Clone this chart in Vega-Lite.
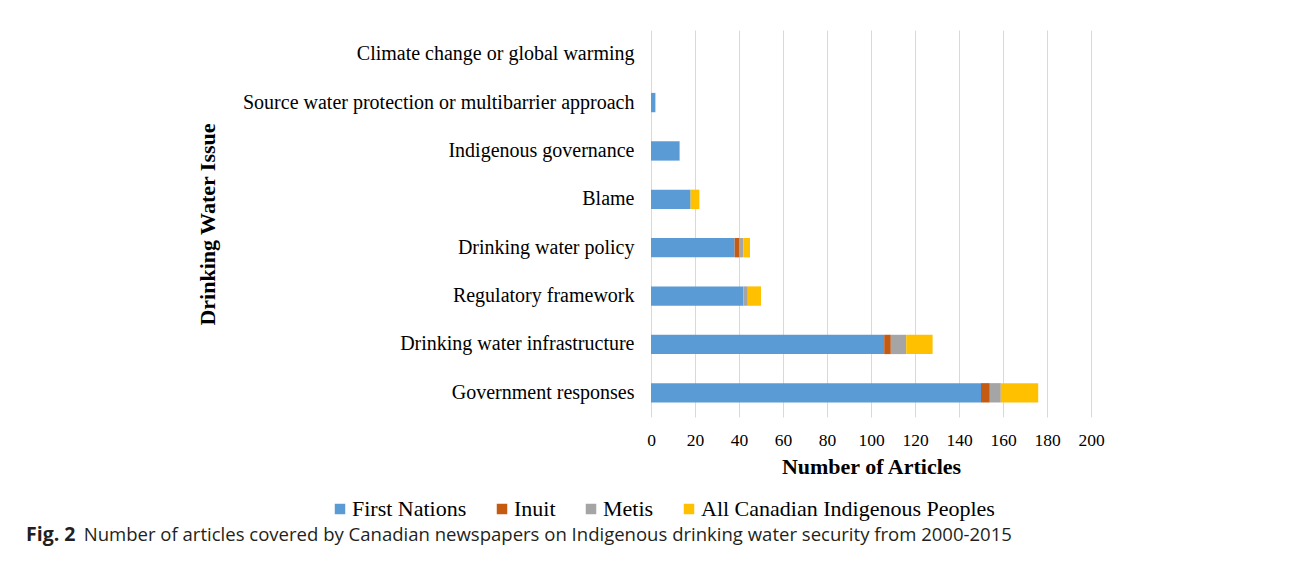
{
  "$schema": "https://vega.github.io/schema/vega-lite/v6.json",
  "width": 440,
  "height": 387,
  "autosize": {"type": "none"},
  "padding": {"left": 651, "top": 30, "right": 201, "bottom": 146},
  "background": "white",
  "title": {
    "text": "Fig. 2",
    "subtitle": "\u200b\u00a0\u00a0\u00a0\u00a0\u00a0\u00a0\u00a0\u00a0\u00a0\u00a0\u00a0\u00a0Number of articles covered by Canadian newspapers on Indigenous drinking water security from 2000-2015",
    "orient": "top",
    "anchor": "start",
    "frame": "group",
    "dx": -625,
    "dy": 516,
    "offset": 0,
    "font": "Open Sans",
    "fontSize": 19.5,
    "fontWeight": "bold",
    "color": "#231f20",
    "subtitleFont": "Open Sans",
    "subtitleFontSize": 18.55,
    "subtitleColor": "#231f20",
    "subtitlePadding": -19
  },
  "data": {
    "values": [
      {"issue": "Government responses", "group": "First Nations", "gi": 1, "n": 150},
      {"issue": "Government responses", "group": "Inuit", "gi": 2, "n": 4},
      {"issue": "Government responses", "group": "Metis", "gi": 3, "n": 5},
      {"issue": "Government responses", "group": "All Canadian Indigenous Peoples", "gi": 4, "n": 17},
      {"issue": "Drinking water infrastructure", "group": "First Nations", "gi": 1, "n": 106},
      {"issue": "Drinking water infrastructure", "group": "Inuit", "gi": 2, "n": 3},
      {"issue": "Drinking water infrastructure", "group": "Metis", "gi": 3, "n": 7},
      {"issue": "Drinking water infrastructure", "group": "All Canadian Indigenous Peoples", "gi": 4, "n": 12},
      {"issue": "Regulatory framework", "group": "First Nations", "gi": 1, "n": 42},
      {"issue": "Regulatory framework", "group": "Inuit", "gi": 2, "n": 0},
      {"issue": "Regulatory framework", "group": "Metis", "gi": 3, "n": 2},
      {"issue": "Regulatory framework", "group": "All Canadian Indigenous Peoples", "gi": 4, "n": 6},
      {"issue": "Drinking water policy", "group": "First Nations", "gi": 1, "n": 38},
      {"issue": "Drinking water policy", "group": "Inuit", "gi": 2, "n": 2},
      {"issue": "Drinking water policy", "group": "Metis", "gi": 3, "n": 2},
      {"issue": "Drinking water policy", "group": "All Canadian Indigenous Peoples", "gi": 4, "n": 3},
      {"issue": "Blame", "group": "First Nations", "gi": 1, "n": 18},
      {"issue": "Blame", "group": "Inuit", "gi": 2, "n": 0},
      {"issue": "Blame", "group": "Metis", "gi": 3, "n": 0},
      {"issue": "Blame", "group": "All Canadian Indigenous Peoples", "gi": 4, "n": 4},
      {"issue": "Indigenous governance", "group": "First Nations", "gi": 1, "n": 13},
      {"issue": "Indigenous governance", "group": "Inuit", "gi": 2, "n": 0},
      {"issue": "Indigenous governance", "group": "Metis", "gi": 3, "n": 0},
      {"issue": "Indigenous governance", "group": "All Canadian Indigenous Peoples", "gi": 4, "n": 0},
      {"issue": "Source water protection or multibarrier approach", "group": "First Nations", "gi": 1, "n": 2},
      {"issue": "Source water protection or multibarrier approach", "group": "Inuit", "gi": 2, "n": 0},
      {"issue": "Source water protection or multibarrier approach", "group": "Metis", "gi": 3, "n": 0},
      {"issue": "Source water protection or multibarrier approach", "group": "All Canadian Indigenous Peoples", "gi": 4, "n": 0},
      {"issue": "Climate change or global warming", "group": "First Nations", "gi": 1, "n": 0},
      {"issue": "Climate change or global warming", "group": "Inuit", "gi": 2, "n": 0},
      {"issue": "Climate change or global warming", "group": "Metis", "gi": 3, "n": 0},
      {"issue": "Climate change or global warming", "group": "All Canadian Indigenous Peoples", "gi": 4, "n": 0}
    ]
  },
  "mark": {"type": "bar"},
  "encoding": {
    "y": {
      "field": "issue",
      "type": "nominal",
      "sort": ["Climate change or global warming", "Source water protection or multibarrier approach", "Indigenous governance", "Blame", "Drinking water policy", "Regulatory framework", "Drinking water infrastructure", "Government responses"],
      "scale": {"paddingInner": 0.6, "paddingOuter": 0.3},
      "axis": {
        "title": "Drinking Water Issue",
        "titleFont": "Liberation Serif",
        "titleFontSize": 22,
        "titleFontWeight": "bold",
        "titleColor": "#000000",
        "titleX": -444,
        "titleY": 194,
        "titleAlign": "center",
        "titleBaseline": "middle",
        "labelFont": "Liberation Serif",
        "labelFontSize": 20,
        "labelColor": "#000000",
        "labelPadding": 17,
        "labelLimit": 500,
        "ticks": false,
        "domain": false,
        "grid": false
      }
    },
    "x": {
      "field": "n",
      "type": "quantitative",
      "stack": "zero",
      "scale": {"domain": [0, 200], "nice": false},
      "axis": {
        "title": "Number of Articles",
        "titleFont": "Liberation Serif",
        "titleFontSize": 22,
        "titleFontWeight": "bold",
        "titleColor": "#000000",
        "titlePadding": 8,
        "labelFont": "Liberation Serif",
        "labelFontSize": 17.5,
        "labelColor": "#000000",
        "labelPadding": 14,
        "labelFlush": false,
        "labelOverlap": false,
        "values": [0, 20, 40, 60, 80, 100, 120, 140, 160, 180, 200],
        "ticks": false,
        "domain": false,
        "grid": true,
        "gridColor": "#d9d9d9",
        "gridWidth": 1
      }
    },
    "color": {
      "field": "group",
      "type": "nominal",
      "scale": {
        "domain": ["First Nations", "Inuit", "Metis", "All Canadian Indigenous Peoples"],
        "range": ["#5b9bd5", "#c55a11", "#a5a5a5", "#ffc000"]
      },
      "legend": {
        "title": null,
        "orient": "none",
        "direction": "horizontal",
        "legendX": -322,
        "legendY": 468,
        "symbolType": "square",
        "symbolSize": 110,
        "symbolStrokeWidth": 0,
        "labelFont": "Liberation Serif",
        "labelFontSize": 22,
        "labelColor": "#000000",
        "labelOffset": 1,
        "labelLimit": 400,
        "columnPadding": 24
      }
    },
    "order": {"field": "gi", "type": "quantitative"}
  },
  "config": {"view": {"stroke": null}}
}
